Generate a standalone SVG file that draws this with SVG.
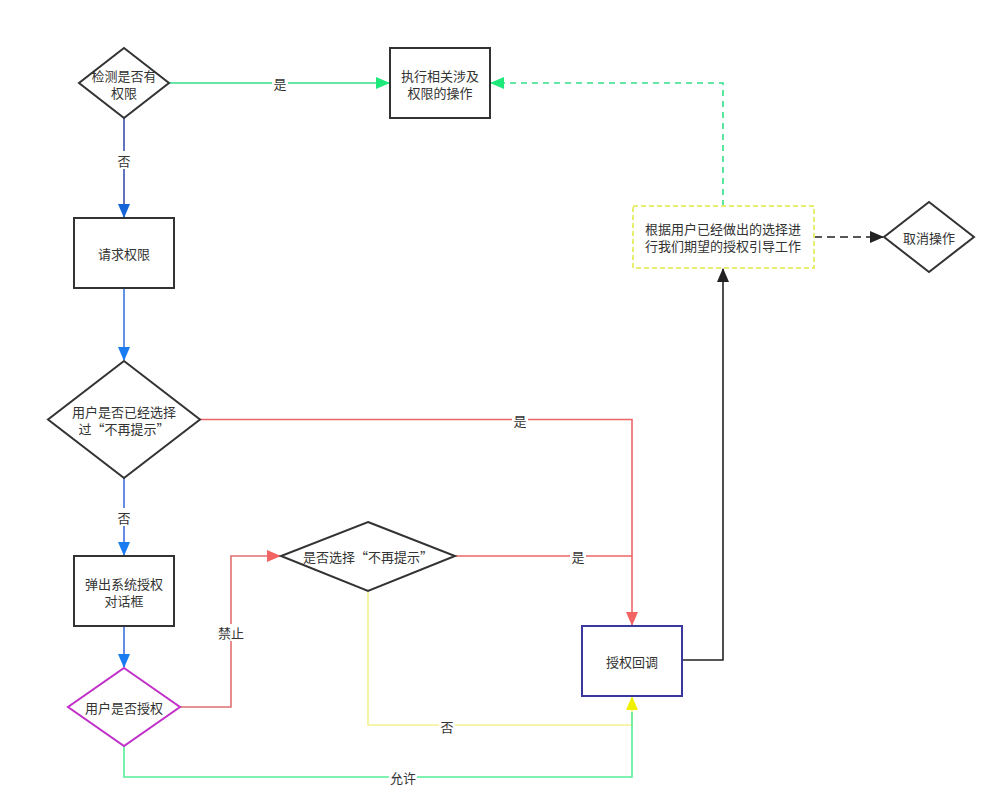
<svg xmlns="http://www.w3.org/2000/svg" width="1006" height="808" viewBox="0 0 1006 808">
<style>
text{font-family:"Noto Sans CJK SC","Liberation Sans",sans-serif;font-size:13px;fill:#333;text-anchor:middle;dominant-baseline:central}
.n{fill:#fff;stroke:#333;stroke-width:2}
.c{fill:none;stroke-width:1.6}
.lb{fill:#fff;stroke:none}
</style>
<defs>
<marker id="aG" viewBox="0 0 14 12" refX="13" refY="6" markerWidth="14" markerHeight="12" markerUnits="userSpaceOnUse" orient="auto"><path d="M0,0 L14,6 L0,12 Z" fill="#1de97a"/></marker>
<marker id="aB" viewBox="0 0 14 12" refX="13" refY="6" markerWidth="14" markerHeight="12" markerUnits="userSpaceOnUse" orient="auto"><path d="M0,0 L14,6 L0,12 Z" fill="#1565d8"/></marker>
<marker id="aB2" viewBox="0 0 14 12" refX="13" refY="6" markerWidth="14" markerHeight="12" markerUnits="userSpaceOnUse" orient="auto"><path d="M0,0 L14,6 L0,12 Z" fill="#1a7cf0"/></marker>
<marker id="aR" viewBox="0 0 14 12" refX="13" refY="6" markerWidth="14" markerHeight="12" markerUnits="userSpaceOnUse" orient="auto"><path d="M0,0 L14,6 L0,12 Z" fill="#f26464"/></marker>
<marker id="aY" viewBox="0 0 14 12" refX="13" refY="6" markerWidth="14" markerHeight="12" markerUnits="userSpaceOnUse" orient="auto"><path d="M0,0 L14,6 L0,12 Z" fill="#f0f000"/></marker>
<marker id="aK" viewBox="0 0 14 12" refX="13" refY="6" markerWidth="14" markerHeight="12" markerUnits="userSpaceOnUse" orient="auto"><path d="M0,0 L14,6 L0,12 Z" fill="#222"/></marker>
</defs>
<rect width="1006" height="808" fill="#fff"/>
<g id="connectors">
<path class="c" d="M169,83 L389,83" stroke="#33dd88" marker-end="url(#aG)"/>
<path class="c" d="M124,118 L124,217" stroke="#3a50a8" marker-end="url(#aB)"/>
<path class="c" d="M124,288 L124,360" stroke="#3a78e0" marker-end="url(#aB2)"/>
<path class="c" d="M124,478 L124,555" stroke="#4070e0" marker-end="url(#aB2)"/>
<path class="c" d="M124,626 L124,667" stroke="#3a70e0" marker-end="url(#aB2)"/>
<path class="c" d="M180,707 L231,707 L231,556 L280,556" stroke="#e07070" marker-end="url(#aR)"/>
<path class="c" d="M200,419.5 L632,419.5 L632,625" stroke="#ee6666" marker-end="url(#aR)"/>
<path class="c" d="M455,556 L632,556" stroke="#ee6666"/>
<path class="c" d="M368,591 L368,725 L632,725 L632,697" stroke="#f2f290" marker-end="url(#aY)"/>
<path class="c" d="M124,746 L124,777 L632,777 L632,712" stroke="#55ee99"/>
<path class="c" d="M682,660 L723,660 L723,269" stroke="#222" stroke-width="2" marker-end="url(#aK)"/>
<path class="c" d="M723,206 L723,83 L491,83" stroke="#33e088" stroke-dasharray="6,5" marker-end="url(#aG)"/>
<path class="c" d="M814,237 L883,237" stroke="#222" stroke-width="2" stroke-dasharray="8,5" marker-end="url(#aK)"/>
<rect class="lb" x="272" y="75" width="16" height="16"/><text x="280" y="83">是</text>
<rect class="lb" x="116" y="151" width="16" height="18"/><text x="124" y="160">否</text>
<rect class="lb" x="512" y="411" width="16" height="17"/><text x="520" y="420">是</text>
<rect class="lb" x="116" y="508" width="16" height="18"/><text x="124" y="517">否</text>
<rect class="lb" x="570" y="548" width="16" height="17"/><text x="578" y="556">是</text>
<rect class="lb" x="217" y="624" width="28" height="17"/><text x="231" y="632">禁止</text>
<rect class="lb" x="439" y="717" width="16" height="18"/><text x="447" y="726">否</text>
<rect class="lb" x="389" y="769" width="28" height="17"/><text x="403" y="777">允许</text>
</g>
<g id="n_check">
<path class="n" d="M124,48 L169,83 L124,118 L79,83 Z"/>
<text x="124" y="75">检测是否有</text><text x="124" y="92">权限</text>
</g>
<g id="n_exec">
<rect class="n" x="390" y="48" width="100" height="70"/>
<text x="440" y="75">执行相关涉及</text><text x="440" y="92">权限的操作</text>
</g>
<g id="n_request">
<rect class="n" x="74" y="218" width="100" height="70"/>
<text x="124" y="253">请求权限</text>
</g>
<g id="n_chosen">
<path class="n" d="M124,361 L200,419.5 L124,478 L48,419.5 Z"/>
<text x="124" y="411">用户是否已经选择</text><text x="124" y="428">过“不再提示”</text>
</g>
<g id="n_dialog">
<rect class="n" x="74" y="556" width="100" height="70"/>
<text x="124" y="583">弹出系统授权</text><text x="124" y="600">对话框</text>
</g>
<g id="n_grant">
<path d="M124,668 L180,707 L124,746 L68,707 Z" fill="#fff" stroke="#c030c8" stroke-width="2"/>
<text x="124" y="707">用户是否授权</text>
</g>
<g id="n_norem">
<path class="n" d="M368,522 L455,556 L368,591 L281,556 Z"/>
<text x="368" y="556">是否选择“不再提示”</text>
</g>
<g id="n_callback">
<rect x="582" y="626" width="100" height="70" fill="#fff" stroke="#3838a0" stroke-width="2"/>
<text x="632" y="661">授权回调</text>
</g>
<g id="n_guide">
<rect x="633" y="206" width="181" height="62" fill="#fff" stroke="#e8ee70" stroke-width="2" stroke-dasharray="5,3"/>
<text x="723" y="228">根据用户已经做出的选择进</text><text x="723" y="245">行我们期望的授权引导工作</text>
</g>
<g id="n_cancel">
<path class="n" d="M929,202 L974,237 L929,272 L884,237 Z"/>
<text x="929" y="237">取消操作</text>
</g>
</svg>
